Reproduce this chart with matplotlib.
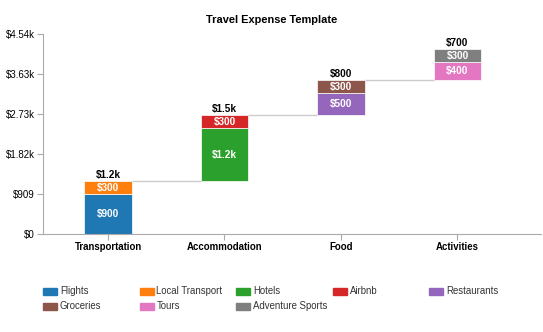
import numpy as np
import matplotlib
matplotlib.use("Agg")
import matplotlib.pyplot as plt
from matplotlib.patches import Rectangle

plt.rcParams['font.family'] = ['Liberation Sans', 'DejaVu Sans']

# expense groups and their sub-items (bottom to top)
groups = ['Transportation', 'Accommodation', 'Food', 'Activities']
items = [['Flights', 'Local Transport'],
         ['Hotels', 'Airbnb'],
         ['Restaurants', 'Groceries'],
         ['Tours', 'Adventure Sports']]
amounts = [[900, 300],
           [1200, 300],
           [500, 300],
           [400, 300]]
item_labels = [['$900', '$300'],
               ['$1.2k', '$300'],
               ['$500', '$300'],
               ['$400', '$300']]
total_labels = ['$1.2k', '$1.5k', '$800', '$700']
legend_items = ['Flights', 'Local Transport', 'Hotels', 'Airbnb', 'Restaurants',
                'Groceries', 'Tours', 'Adventure Sports']
colors = ['#1f77b4', '#ff7f0e', '#2ca02c', '#d62728', '#9467bd',
          '#8c564b', '#e377c2', '#7f7f7f']
y_max = 4545
y_ticks = np.linspace(0, y_max, 6)
y_tick_labels = ['$0', '$909', '$1.82k', '$2.73k', '$3.63k', '$4.54k']

color_of = dict(zip(legend_items, colors))


def draw_waterfall(ax, width=0.41):
    base = 0
    x = np.arange(len(groups))
    for i, g in enumerate(groups):
        for name, val, lab in zip(items[i], amounts[i], item_labels[i]):
            ax.bar(x[i], val, width, bottom=base, color=color_of[name],
                   edgecolor='white', linewidth=0.5)
            ax.text(x[i], base + val / 2, lab, ha='center', va='center',
                    color='white', fontsize=7.2, fontweight='bold')
            base += val
        ax.text(x[i], base + 25, total_labels[i], ha='center', va='bottom',
                color='black', fontsize=7.2, fontweight='bold')
        # connector to the next group
        if i < len(groups) - 1:
            ax.plot([x[i] + width / 2, x[i + 1] - width / 2], [base, base],
                    color='#cccccc', linewidth=1, zorder=0)


fig = plt.figure(figsize=(5.43, 3.32), dpi=100)
ax = fig.add_axes([43 / 543, 98 / 332, 498 / 543, 200 / 332])
draw_waterfall(ax)

ax.set_xlim(-0.558, 3.717)
ax.set_ylim(0, y_max)
ax.set_xticks(np.arange(len(groups)))
ax.set_xticklabels(groups, fontsize=6.9, fontweight='bold')
ax.set_yticks(y_ticks)
ax.set_yticklabels(y_tick_labels, fontsize=7)
for s in ['top', 'right']:
    ax.spines[s].set_visible(False)
for s in ['left', 'bottom']:
    ax.spines[s].set_color('#aaaaaa')
ax.tick_params(axis='both', colors='#aaaaaa', labelcolor='black', length=4, width=0.8, pad=2)

fig.text(0.5, 1 - 20 / 332, 'Travel Expense Template', ha='center', va='center',
         fontsize=7.9, fontweight='bold')

# legend laid out in equal-width columns
col_w = 96.5
for k, (name, c) in enumerate(zip(legend_items, colors)):
    row, col = divmod(k, 5)
    px = 43 + col * col_w
    py = 291 + row * 15
    fig.patches.append(Rectangle((px / 543, 1 - (py + 3.5) / 332), 14 / 543, 7 / 332,
                                 transform=fig.transFigure, color=c))
    fig.text((px + 17) / 543, 1 - py / 332, name, ha='left', va='center',
             fontsize=6.9, color='#333333')

fig.savefig('out.png', dpi=100)
